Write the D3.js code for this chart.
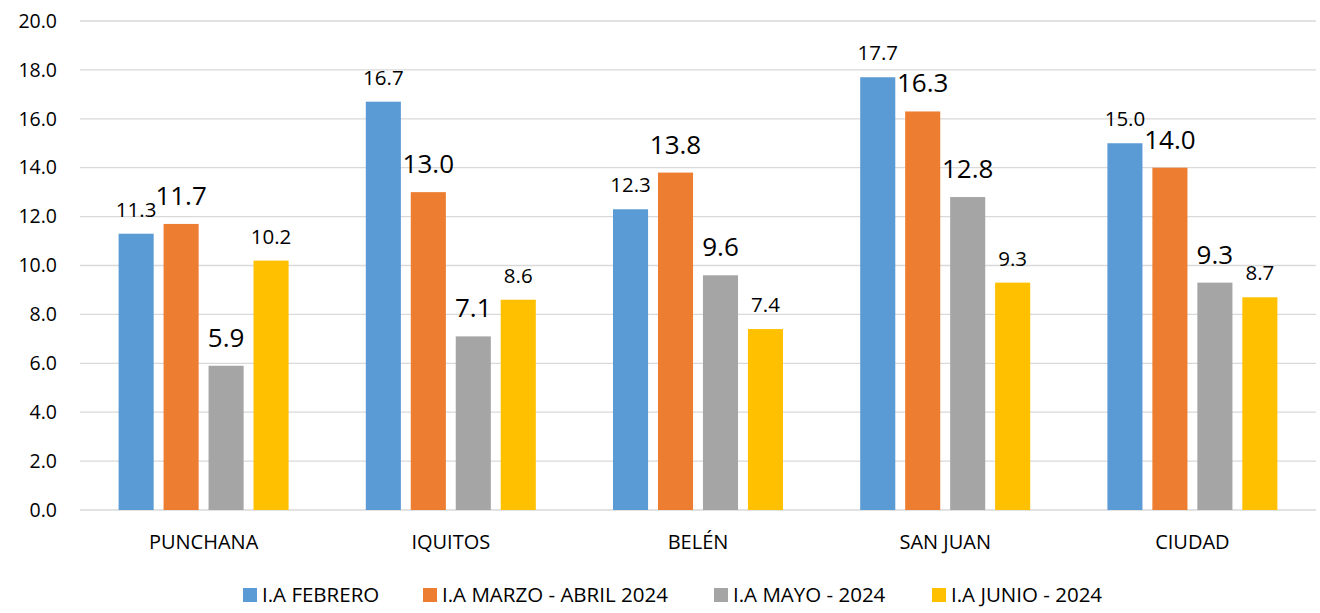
<!DOCTYPE html>
<html>
<head>
<meta charset="utf-8">
<script src="https://cdn.jsdelivr.net/npm/d3@7"></script>
<style>
  body { margin: 0; background: #fff; }
  text { font-family: 'Open Sans', 'Liberation Sans', sans-serif; fill: #000; }
</style>
</head>
<body>
<div id="chart"></div>
<script>
// data
var categories = ['PUNCHANA', 'IQUITOS', 'BELÉN', 'SAN JUAN', 'CIUDAD']
var seriesNames = ['I.A FEBRERO', 'I.A MARZO - ABRIL 2024', 'I.A MAYO - 2024', 'I.A JUNIO - 2024']
var febrero = [11.3, 16.7, 12.3, 17.7, 15.0]
var marzoAbril = [11.7, 13.0, 13.8, 16.3, 14.0]
var mayo = [5.9, 7.1, 9.6, 12.8, 9.3]
var junio = [10.2, 8.6, 7.4, 9.3, 8.7]
var yTicks = [0, 2, 4, 6, 8, 10, 12, 14, 16, 18, 20]

var colors = ['#5b9bd5', '#ed7d31', '#a5a5a5', '#ffc000']
var labelSizes = [20.5, 26, 26, 20.5]
var series = [febrero, marzoAbril, mayo, junio]

var svgWidth = 1320
var svgHeight = 613
var margin = { top: 21, right: 4, bottom: 103, left: 80 }
var width = svgWidth - margin.left - margin.right
var height = svgHeight - margin.top - margin.bottom

var svg = d3.select('#chart')
  .append('svg')
  .attr('width', svgWidth)
  .attr('height', svgHeight)

var chartGroup = svg.append('g')
  .attr('transform', `translate(${margin.left}, ${margin.top})`)

var x0 = d3.scaleBand()
  .domain(categories)
  .range([0, width])
  .paddingInner(0)
  .paddingOuter(0)

var groupWidth = 170
var x1 = d3.scaleBand()
  .domain(d3.range(series.length))
  .range([0, groupWidth])
  .paddingInner(0.22)
  .paddingOuter(0)

var y = d3.scaleLinear()
  .domain([0, 20])
  .range([height, 0])

// gridlines
chartGroup.selectAll('.grid')
  .data(yTicks)
  .enter()
  .append('line')
  .attr('x1', 0)
  .attr('x2', width)
  .attr('y1', d => y(d))
  .attr('y2', d => y(d))
  .attr('stroke', '#d9d9d9')
  .attr('stroke-width', 1.3)

// y axis labels
var leftAxis = d3.axisLeft(y)
  .tickValues(yTicks)
  .tickFormat(d3.format('.1f'))
  .tickSize(0)
  .tickPadding(23)

chartGroup.append('g')
  .call(leftAxis)
  .call(g => g.select('.domain').remove())
  .selectAll('text')
  .style('font-size', '19.5px')
  .style('fill', '#000')

// x axis labels
var bottomAxis = d3.axisBottom(x0).tickSize(0).tickPadding(25)
chartGroup.append('g')
  .attr('transform', `translate(0, ${height})`)
  .call(bottomAxis)
  .call(g => g.select('.domain').remove())
  .selectAll('text')
  .style('font-size', '20px')
  .style('fill', '#000')

// bars
series.forEach(function (values, s) {
  var g = chartGroup.append('g')
  g.selectAll('rect')
    .data(values)
    .enter()
    .append('rect')
    .attr('x', (d, i) => x0(categories[i]) + (x0.bandwidth() - groupWidth) / 2 + x1(s))
    .attr('y', d => y(d))
    .attr('width', x1.bandwidth())
    .attr('height', d => height - y(d))
    .attr('fill', colors[s])

  g.selectAll('text')
    .data(values)
    .enter()
    .append('text')
    .attr('x', (d, i) => x0(categories[i]) + (x0.bandwidth() - groupWidth) / 2 + x1(s) + x1.bandwidth() / 2)
    .attr('y', d => y(d) - (labelSizes[s] > 23 ? 19 : 17))
    .attr('text-anchor', 'middle')
    .style('font-size', labelSizes[s] + 'px')
    .text(d => d.toFixed(1))
})

// legend
var legendX = [243, 423, 714, 932]
var legend = svg.append('g')
seriesNames.forEach(function (name, s) {
  legend.append('rect')
    .attr('x', legendX[s])
    .attr('y', 588)
    .attr('width', 14)
    .attr('height', 14)
    .attr('fill', colors[s])
  legend.append('text')
    .attr('x', legendX[s] + 19)
    .attr('y', 602)
    .style('font-size', '20.5px')
    .text(name)
})
</script>
</body>
</html>
